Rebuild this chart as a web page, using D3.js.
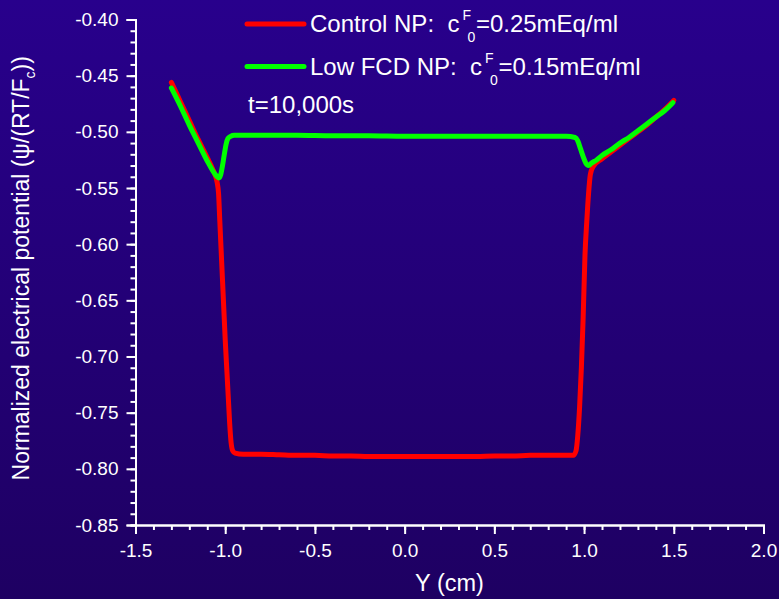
<!DOCTYPE html>
<html><head><meta charset="utf-8">
<script src="https://cdn.jsdelivr.net/npm/d3@7/dist/d3.min.js"></script>
<style>
html,body{margin:0;padding:0;overflow:hidden;}
svg{display:block;}
text{font-family:"Liberation Sans",Arial,sans-serif;fill:#fff;white-space:pre;}
</style></head>
<body>
<script>
// ---- data ----
const controlX = [-1.30,-1.25,-1.20,-1.15,-1.10,-1.07,-1.055,-1.045,-1.037,-1.03,-1.02,-1.01,-1.00,-0.99,-0.982,-0.975,-0.967,-0.958,-0.945,-0.90,-0.80,-0.70,-0.60,-0.50,-0.40,-0.30,-0.20,-0.10,0.00,0.10,0.20,0.30,0.40,0.50,0.60,0.70,0.80,0.90,0.94,0.955,0.965,0.975,0.985,0.995,1.005,1.015,1.025,1.035,1.05,1.10,1.15,1.20,1.25,1.30,1.35,1.40,1.45,1.50];
const controlY = [-0.456,-0.473,-0.490,-0.507,-0.523,-0.533,-0.539,-0.545,-0.555,-0.580,-0.615,-0.650,-0.685,-0.715,-0.739,-0.760,-0.777,-0.784,-0.786,-0.787,-0.787,-0.7875,-0.788,-0.788,-0.7885,-0.7885,-0.789,-0.789,-0.789,-0.789,-0.789,-0.789,-0.789,-0.7885,-0.7885,-0.788,-0.788,-0.788,-0.788,-0.784,-0.770,-0.745,-0.710,-0.665,-0.610,-0.580,-0.555,-0.538,-0.531,-0.524,-0.518,-0.512,-0.506,-0.500,-0.494,-0.487,-0.480,-0.472];
const lowX = [-1.30,-1.25,-1.20,-1.15,-1.10,-1.06,-1.045,-1.035,-1.025,-1.015,-1.005,-0.995,-0.985,-0.97,-0.95,-0.90,-0.80,-0.60,-0.40,-0.20,0.00,0.20,0.40,0.60,0.80,0.90,0.95,0.965,0.98,0.995,1.01,1.025,1.04,1.07,1.10,1.15,1.20,1.25,1.30,1.35,1.40,1.45,1.495];
const lowY = [-0.461,-0.477,-0.494,-0.510,-0.526,-0.537,-0.540,-0.541,-0.538,-0.530,-0.520,-0.511,-0.506,-0.504,-0.503,-0.503,-0.503,-0.503,-0.5035,-0.5035,-0.504,-0.504,-0.504,-0.504,-0.504,-0.504,-0.505,-0.508,-0.515,-0.522,-0.528,-0.530,-0.528,-0.525,-0.521,-0.516,-0.510,-0.505,-0.499,-0.493,-0.487,-0.481,-0.474];
const xTicks = [-1.5,-1.0,-0.5,0.0,0.5,1.0,1.5,2.0];
const yTicks = [-0.40,-0.45,-0.50,-0.55,-0.60,-0.65,-0.70,-0.75,-0.80,-0.85];
const seriesNames = ["Control NP:  c","Low FCD NP:  c"];
const seriesValues = ["=0.25mEq/ml","=0.15mEq/ml"];
const seriesColors = ["#ff0000","#00ff00"];

const W = 779, H = 599;
const svg = d3.select("body").append("svg").attr("width",W).attr("height",H);
const defs = svg.append("defs");
const grad = defs.append("linearGradient").attr("id","bg").attr("x1",0).attr("y1",0).attr("x2",0).attr("y2",1);
grad.append("stop").attr("offset","0%").attr("stop-color","#28008c");
grad.append("stop").attr("offset","100%").attr("stop-color","#1e0062");
svg.append("rect").attr("width",W).attr("height",H).attr("fill","url(#bg)");

const x = d3.scaleLinear().domain([-1.5,2.0]).range([135.5,763.5]);
const y = d3.scaleLinear().domain([-0.85,-0.40]).range([525,19.5]);

// minor ticks
const xMinor = d3.range(-1.5,2.0001,0.1).map(v=>+v.toFixed(2));
const yMinor = d3.range(-0.85,-0.3999,0.01).map(v=>+v.toFixed(3));

const gx = svg.append("g").attr("transform",`translate(0,${y(-0.85)})`);
gx.call(d3.axisBottom(x).tickValues(xMinor).tickSize(5).tickFormat(""));
gx.append("g").call(d3.axisBottom(x).tickValues(xTicks).tickSize(9).tickPadding(10).tickFormat(d=>d.toFixed(1)));
gx.selectAll("path.domain").attr("stroke","#fff").attr("stroke-width",2);
gx.selectAll(".tick line").attr("stroke","#fff").attr("stroke-width",2);
gx.selectAll(".tick text").attr("fill","#fff").style("font-size","19px").style("font-family","'Liberation Sans',Arial,sans-serif");

const gy = svg.append("g").attr("transform",`translate(${x(-1.5)},0)`);
gy.call(d3.axisLeft(y).tickValues(yMinor).tickSize(5).tickFormat(""));
gy.append("g").call(d3.axisLeft(y).tickValues(yTicks).tickSize(9).tickPadding(8).tickFormat(d=>d.toFixed(2)));
gy.selectAll("path.domain").attr("stroke","#fff").attr("stroke-width",2);
gy.selectAll(".tick line").attr("stroke","#fff").attr("stroke-width",2);
gy.selectAll(".tick text").attr("fill","#fff").style("font-size","19px").style("font-family","'Liberation Sans',Arial,sans-serif");

// lines
const line = d3.line().x(d=>x(d[0])).y(d=>y(d[1])).curve(d3.curveMonotoneX);
const ctrl = controlX.map((v,i)=>[v,controlY[i]]);
const low = lowX.map((v,i)=>[v,lowY[i]]);
[[ctrl,seriesColors[0]],[low,seriesColors[1]]].forEach(([d,c])=>{
  svg.append("path").datum(d).attr("d",line).attr("fill","none").attr("stroke",c)
    .attr("stroke-width",5).attr("stroke-linejoin","round").attr("stroke-linecap","round");
});

// legend
const legY = [24, 66.5];
const lx = 310;
seriesNames.forEach((n,i)=>{
  svg.append("line").attr("x1",247).attr("x2",304).attr("y1",legY[i]).attr("y2",legY[i])
    .attr("stroke",seriesColors[i]).attr("stroke-width",5).attr("stroke-linecap","round");
  const base = legY[i]+8;
  const t = svg.append("text").attr("x",lx).attr("y",base).style("font-size","24px");
  const nm = t.append("tspan").text(n);
  const len = nm.node().getComputedTextLength();
  const fx = lx + len + 3;
  t.append("tspan").attr("x",fx).attr("y",base-12).style("font-size","14px").text("F");
  t.append("tspan").attr("x",fx+5).attr("y",base+10).style("font-size","14px").text("0");
  t.append("tspan").attr("x",fx+13.5).attr("y",base).text(seriesValues[i]);
});
svg.append("text").attr("x",248).attr("y",113).style("font-size","24px").text("t=10,000s");

// axis titles
svg.append("text").attr("x",x(0.25)).attr("y",591).attr("text-anchor","middle").style("font-size","23.5px").text("Y (cm)");
const yt = svg.append("text").attr("transform",`translate(29,${(19.5+525)/2 - 4}) rotate(-90)`).attr("text-anchor","middle").style("font-size","23px");
yt.append("tspan").text("Normalized electrical potential (\u03C8/(RT/F");
yt.append("tspan").attr("dy",6).style("font-size","14px").text("c");
yt.append("tspan").attr("dy",-6).text("))");
</script>
</body></html>
